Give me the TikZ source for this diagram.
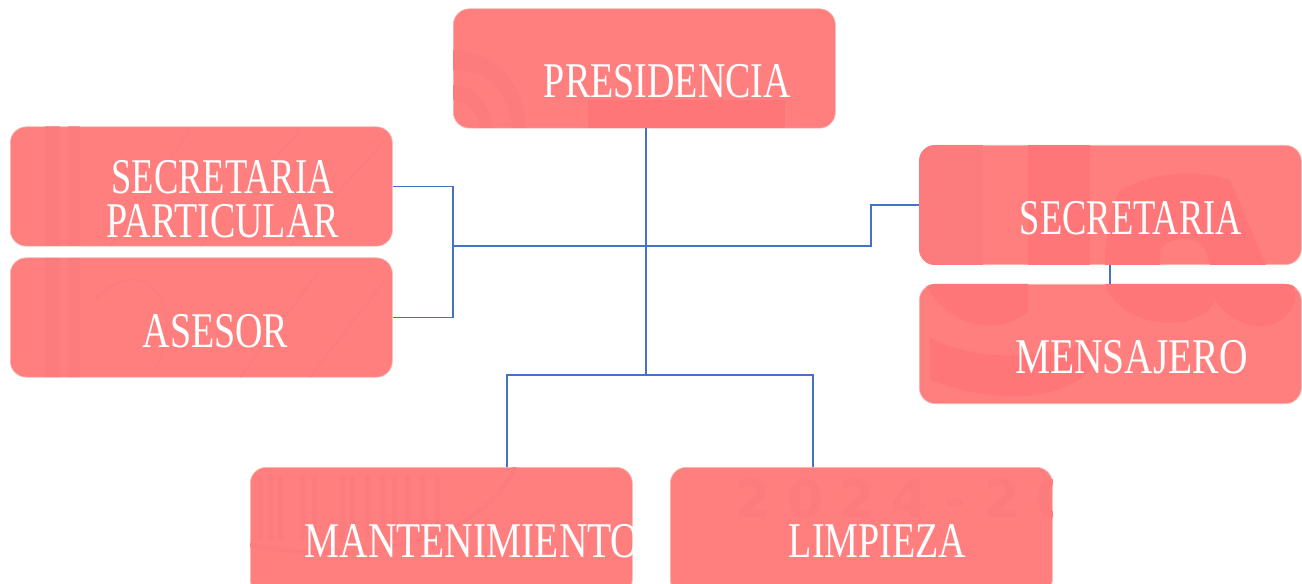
\documentclass[tikz,border=0pt]{standalone}
\usepackage{fontspec}
\setmainfont{Liberation Serif}
\newfontfamily\labfont[FakeStretch=0.76]{Liberation Serif}
\newfontfamily\labnarrow[FakeStretch=0.73]{Liberation Serif}
\newfontfamily\labwide[FakeStretch=0.79]{Liberation Serif}
\newfontfamily\wmfont{DejaVu Sans}
\definecolor{boxfill}{HTML}{FF7F7F}
\definecolor{boxedge}{HTML}{F7B5B0}
\definecolor{markdark}{HTML}{FF7678}
\definecolor{marksoft}{HTML}{FC7C7D}
\definecolor{linkblue}{HTML}{4472C4}
\tikzset{
  orgbox/.style={draw=boxedge,line width=0.5pt,fill=boxfill,rounded corners=12pt,
    minimum width=286.5pt,minimum height=89.5pt,inner sep=0pt,anchor=north west},
  orglabel/.style={text=white,font=\labfont\fontsize{37.5pt}{33pt}\selectfont,inner sep=0pt,align=center,anchor=center},
  link/.style={draw=linkblue,line width=0.8pt,line join=miter},
  wmdark/.style={fill=markdark,draw=none},
  wmsoft/.style={fill=marksoft,draw=none},
}
\begin{document}
\begin{tikzpicture}[x=0.75pt,y=-0.75pt]
\useasboundingbox (0,0) rectangle (1302,584);
\clip (0,0) rectangle (1302,584);
% connector junctions
\coordinate (hub) at (646,246);
\coordinate (busL) at (453,246);
\coordinate (busR) at (871,246);
\coordinate (low) at (646,375);
\coordinate (lowL) at (507,375);
\coordinate (lowR) at (813,375);
\coordinate (tie) at (1110,275);
% boxes
\node[orgbox] (pres) at (453,8.5) {};
\node[orgbox] (secp) at (10,126.5) {};
\node[orgbox] (ases) at (10,257.5) {};
\node[orgbox] (secr) at (919,145) {};
\node[orgbox] (mens) at (919,284) {};
\node[orgbox,minimum height=96pt] (mant) at (250,467) {};
\node[orgbox,minimum height=96pt] (limp) at (670,467) {};
% faint watermark inside boxes
\begin{scope}
\clip[rounded corners=12pt] (pres.north west) rectangle (pres.south east);
\fill[wmdark] (588,100) rectangle (785,128);
\fill[wmsoft] (453,50) .. controls (500,50) and (525,90) .. (526,128) -- (512,128) .. controls (510,95) and (490,70) .. (453,70) -- cycle;
\fill[wmsoft] (453,85) .. controls (475,85) and (490,105) .. (492,128) -- (480,128) .. controls (478,112) and (468,100) .. (453,100) -- cycle;
\end{scope}
\begin{scope}
\clip[rounded corners=12pt] (secp.north west) rectangle (secp.south east);
\fill[wmsoft] (45,126) rectangle (60,246);
\fill[wmsoft] (68,126) rectangle (80,246);
\draw[marksoft,line width=1pt] (110,246) -- (190,130) (200,246) -- (300,130) (290,246) -- (385,140);
\end{scope}
\begin{scope}
\clip[rounded corners=12pt] (ases.north west) rectangle (ases.south east);
\fill[wmsoft] (45,258) rectangle (60,377);
\fill[wmsoft] (68,258) rectangle (80,377);
\draw[marksoft,line width=1pt] (95,300) .. controls (140,250) and (190,300) .. (155,370);
\draw[marksoft,line width=1pt] (240,377) -- (320,270) (310,377) -- (385,280);
\end{scope}
\begin{scope}
\clip[rounded corners=12pt] (secr.north west) rectangle (secr.south east);
\fill[wmsoft] (919,145) rectangle (983,265);
\fill[wmdark] (1028,145) rectangle (1090,265);
\fill[wmdark] (1120,190) .. controls (1160,170) and (1200,170) .. (1230,180) -- (1266,265) -- (1210,265) -- (1205,250) .. controls (1200,235) and (1170,235) .. (1160,250) -- (1160,265) -- (1105,265) .. controls (1105,240) and (1110,210) .. (1120,190) -- cycle;
\end{scope}
\begin{scope}
\clip[rounded corners=12pt] (mens.north west) rectangle (mens.south east);
\fill[wmdark] (925,284) .. controls (950,330) and (1000,335) .. (1028,312) -- (1028,284) -- cycle;
\fill[wmdark] (1105,284) .. controls (1120,330) and (1200,335) .. (1215,300) .. controls (1240,335) and (1285,335) .. (1295,300) -- (1295,284) -- cycle;
\fill[wmdark] (930,338) .. controls (980,362) and (1040,360) .. (1090,340) -- (1090,370) .. controls (1060,403) and (990,403) .. (930,380) -- cycle;
\end{scope}
\begin{scope}
\clip[rounded corners=12pt] (mant.north west) rectangle (mant.south east);
\foreach \wx in {258,268,278,300,312,340,350,365,380,392,405,420,435}
  \fill[wmsoft] (\wx,475) rectangle ++(5,65);
\draw[marksoft,line width=3pt] (250,545) .. controls (380,570) and (490,530) .. (515,467);
\end{scope}
\begin{scope}
\clip[rounded corners=12pt] (limp.north west) rectangle (limp.south east);
\node[text=marksoft,font=\wmfont\bfseries\fontsize{39pt}{39pt}\selectfont,anchor=west,inner sep=0pt] (wm) at (735,499) {2\kern12pt 0\kern12pt 2\kern12pt 4\kern12pt -\kern14pt 2\kern12pt 0};
\end{scope}
% connectors
\draw[link] (pres.south -| hub) -- (low);
\draw[link] (busL) -- (busR) |- (secr.west);
\draw[link] (secp.east) -| (busL) |- (ases.east);
\draw[link] (mant.north -| lowL) |- (lowR) -- (limp.north -| lowR);
\draw[link] (secr.south -| tie) -- (mens.north -| tie);
% labels
\node[orglabel] (tpres) at (667.5,81) {PRESIDENCIA};
\node[orglabel] (tsecp) at (222.5,199.5) {{\labnarrow SECRETARIA}\\PARTICULAR};
\node[orglabel] (tases) at (215.5,331) {ASESOR};
\node[orglabel] (tsecr) at (1131,218) {\labnarrow SECRETARIA};
\node[orglabel] (tmens) at (1131.5,357) {\labwide MENSAJERO};
\node[orglabel] (tmant) at (472,541) {\labwide MANTENIMIENTO};
\node[orglabel] (tlimp) at (877.5,541) {LIMPIEZA};
\end{tikzpicture}
\end{document}
